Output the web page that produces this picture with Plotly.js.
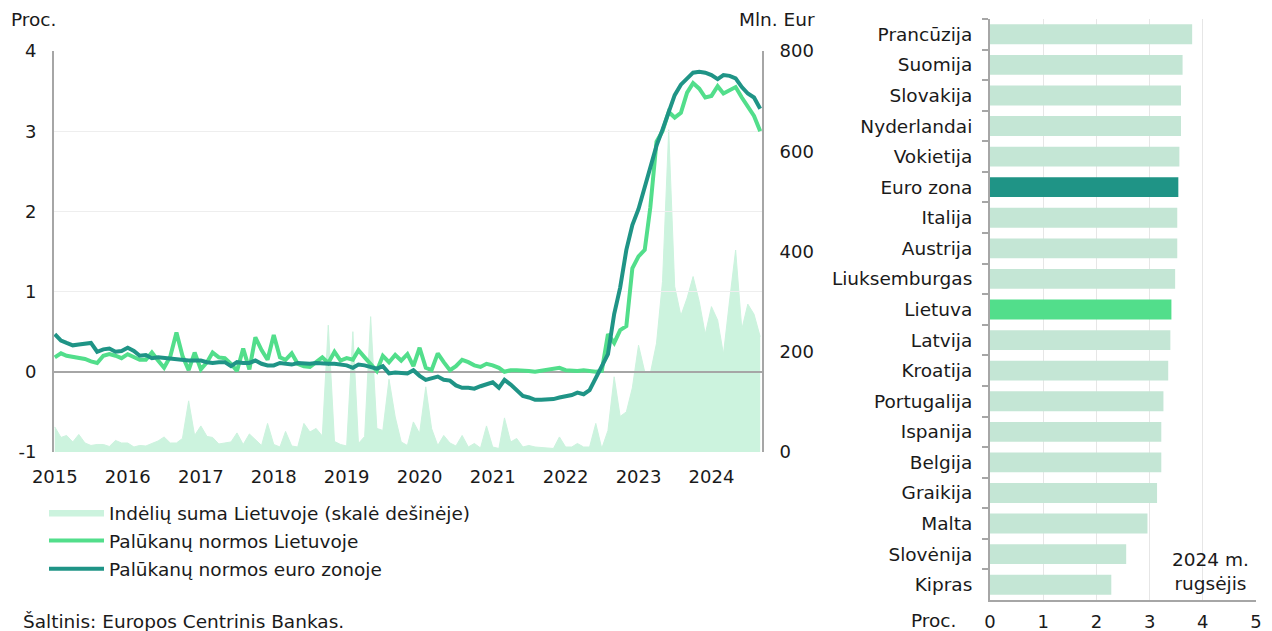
<!DOCTYPE html>
<html>
<head>
<meta charset="utf-8">
<script src="https://cdn.plot.ly/plotly-3.0.1.min.js"></script>
<style>html,body{margin:0;padding:0;background:#fff;}#chart{width:1272px;height:631px;}</style>
</head>
<body>
<div id="chart"></div>
<script>
// ---- Data (monthly, Jan 2015 – Sep 2024) ----
const startYear = 2015;
const depositsLT = [
  50, 29, 33, 20, 35, 18, 13, 15, 15, 11,
  23, 18, 18, 10, 13, 12, 17, 22, 30, 18,
  18, 27, 102, 33, 52, 31, 29, 16, 18, 20,
  38, 15, 36, 25, 13, 57, 15, 10, 41, 12,
  10, 57, 40, 47, 32, 253, 21, 15, 12, 240,
  17, 31, 270, 47, 43, 145, 70, 20, 13, 60,
  37, 130, 47, 13, 33, 18, 12, 33, 10, 17,
  8, 52, 10, 7, 68, 20, 27, 10, 13, 10,
  9, 8, 7, 30, 10, 10, 17, 10, 10, 57,
  7, 43, 150, 71, 80, 128, 213, 160, 157, 217,
  340, 643, 330, 272, 307, 350, 300, 235, 290, 263,
  195, 303, 403, 245, 295, 275, 230
];
const rateLT = [
  0.18, 0.23, 0.20, 0.19, 0.18, 0.16, 0.13, 0.11, 0.20, 0.22,
  0.20, 0.17, 0.22, 0.18, 0.15, 0.15, 0.24, 0.14, 0.05, 0.19,
  0.49, 0.20, 0.02, 0.24, 0.03, 0.12, 0.24, 0.18, 0.17, 0.10,
  0.01, 0.29, 0.03, 0.43, 0.27, 0.15, 0.46, 0.18, 0.15, 0.23,
  0.10, 0.07, 0.06, 0.12, 0.18, 0.11, 0.25, 0.14, 0.17, 0.15,
  0.27, 0.18, 0.10, 0.01, 0.20, 0.12, 0.21, 0.14, 0.22, 0.07,
  0.30, 0.05, 0.02, 0.23, 0.12, 0.02, 0.07, 0.15, 0.12, 0.08,
  0.06, 0.10, 0.08, 0.05, 0.00, 0.02, 0.02, 0.02, 0.01, 0.00,
  0.01, 0.02, 0.04, 0.05, 0.02, 0.01, 0.01, 0.02, 0.01, 0.00,
  0.01, 0.47, 0.36, 0.52, 0.57, 1.29, 1.44, 1.52, 2.05, 2.87,
  3.00, 3.24, 3.17, 3.23, 3.48, 3.60, 3.53, 3.42, 3.44, 3.56,
  3.47, 3.51, 3.55, 3.42, 3.31, 3.19, 3.00
];
const rateEA = [
  0.47, 0.39, 0.36, 0.33, 0.34, 0.35, 0.36, 0.25, 0.28, 0.29,
  0.25, 0.26, 0.30, 0.26, 0.20, 0.21, 0.17, 0.18, 0.17, 0.16,
  0.15, 0.15, 0.14, 0.14, 0.14, 0.12, 0.11, 0.12, 0.12, 0.07,
  0.12, 0.11, 0.11, 0.14, 0.10, 0.08, 0.08, 0.11, 0.10, 0.09,
  0.11, 0.10, 0.10, 0.11, 0.10, 0.10, 0.10, 0.09, 0.08, 0.05,
  0.09, 0.08, 0.06, 0.04, 0.07, -0.02, -0.01, -0.01, -0.02, 0.02,
  -0.05, -0.10, -0.08, -0.06, -0.10, -0.11, -0.17, -0.20, -0.20, -0.21,
  -0.18, -0.16, -0.13, -0.20, -0.10, -0.16, -0.23, -0.30, -0.32, -0.35,
  -0.35, -0.35, -0.34, -0.32, -0.31, -0.29, -0.26, -0.28, -0.23, -0.08,
  0.08, 0.22, 0.72, 1.05, 1.52, 1.83, 2.03, 2.30, 2.58, 2.82,
  3.02, 3.25, 3.45, 3.58, 3.65, 3.73, 3.74, 3.73, 3.70, 3.65,
  3.70, 3.69, 3.66, 3.55, 3.47, 3.42, 3.28
];

const countries = ['Prancūzija','Suomija','Slovakija','Nyderlandai','Vokietija','Euro zona','Italija','Austrija','Liuksemburgas','Lietuva','Latvija','Kroatija','Portugalija','Ispanija','Belgija','Graikija','Malta','Slovėnija','Kipras'];
const countryRates = [3.80, 3.62, 3.59, 3.59, 3.56, 3.54, 3.52, 3.52, 3.48, 3.41, 3.39, 3.35, 3.26, 3.22, 3.22, 3.14, 2.96, 2.56, 2.28];

const legendNames = ['Indėlių suma Lietuvoje (skalė dešinėje)', 'Palūkanų normos Lietuvoje', 'Palūkanų normos euro zonoje'];
const pctTicks = [-1, 0, 1, 2, 3, 4];
const pctTickText = ['-1', '0', '1', '2', '3', '4'];

// ---- month dates for x ----
const months = depositsLT.map((_, i) => {
  const y = startYear + Math.floor(i / 12);
  const m = (i % 12) + 1;
  return y + '-' + String(m).padStart(2, '0') + '-01';
});

// ---- styles ----
const C_AREA = '#ccf3de';
const C_LT = '#52de8b';
const C_EA = '#1f9486';
const C_BAR = '#c4e6d5';
const AXIS = '#a6a6a6';
const FS = 18.5;
const W = 1272, H = 631;
const px = v => v / W;
const py = v => 1 - v / H;

const leftX = [px(54), px(762)];
const leftY = [py(452), py(51)];
const rightX = [px(990), px(1256)];
const rightY = [py(600), py(19)];
const xRange = ['2014-12-28', '2024-09-10'];

const traces = [
  {
    type: 'scatter', mode: 'lines', x: months, y: depositsLT, name: legendNames[0],
    xaxis: 'x', yaxis: 'y', fill: 'tozeroy', fillcolor: C_AREA,
    line: {width: 1, color: C_AREA}, legendgroup: 'a', hoverinfo: 'skip'
  },
  {
    type: 'scatter', mode: 'lines', x: months, y: rateLT, name: legendNames[1],
    xaxis: 'x2', yaxis: 'y2', line: {width: 4, color: C_LT}, legendgroup: 'b'
  },
  {
    type: 'scatter', mode: 'lines', x: months, y: rateEA, name: legendNames[2],
    xaxis: 'x2', yaxis: 'y2', line: {width: 4, color: C_EA}, legendgroup: 'c'
  },
  {
    type: 'bar', orientation: 'h', x: countryRates, y: countries,
    xaxis: 'x3', yaxis: 'y3', showlegend: false, width: 0.65,
    marker: {color: countries.map(c => c === 'Euro zona' ? C_EA : (c === 'Lietuva' ? C_LT : C_BAR))}
  }
];

const layout = {
  width: W, height: H,
  margin: {l: 0, r: 0, t: 0, b: 0},
  paper_bgcolor: '#ffffff', plot_bgcolor: 'rgba(0,0,0,0)',
  font: {family: 'DejaVu Sans, Verdana, sans-serif', size: FS, color: '#1a1a1a'},
  showlegend: true,
  legend: {
    x: px(44), xanchor: 'left', y: py(494), yanchor: 'top',
    orientation: 'v', itemwidth: 55, tracegroupgap: 1, traceorder: 'grouped',
    bgcolor: 'rgba(0,0,0,0)', font: {size: FS, color: '#1a1a1a'}
  },
  xaxis: {
    domain: leftX, anchor: 'y', type: 'date', range: xRange,
    tick0: '2015-01-01', dtick: 'M12', tickformat: '%Y', tickfont: {size: 18},
    showgrid: false, showline: false, zeroline: false, ticks: '', ticklabelstandoff: 12
  },
  yaxis: {
    domain: leftY, anchor: 'x', side: 'right', range: [0, 800], dtick: 200, tickfont: {size: 18},
    showgrid: false, zeroline: false, showline: true, linecolor: AXIS, linewidth: 2,
    ticks: '', ticklabelstandoff: 12
  },
  xaxis2: {domain: leftX, anchor: 'y2', type: 'date', range: xRange, visible: false},
  yaxis2: {
    domain: leftY, anchor: 'x2', side: 'left', range: [-1, 4],
    tickmode: 'array', tickvals: pctTicks, ticktext: pctTickText, tickfont: {size: 18},
    showgrid: true, gridcolor: '#eeeeee', gridwidth: 1,
    zeroline: true, zerolinecolor: AXIS, zerolinewidth: 2,
    showline: true, linecolor: AXIS, linewidth: 2, ticks: '', ticklabelstandoff: 12
  },
  xaxis3: {
    domain: rightX, anchor: 'y3', range: [0, 5], dtick: 1, tickfont: {size: 18},
    showgrid: true, gridcolor: '#e6e6e6', gridwidth: 1, zeroline: false,
    showline: true, linecolor: AXIS, linewidth: 2, ticks: '', ticklabelstandoff: 4
  },
  yaxis3: {
    domain: rightY, anchor: 'x3', type: 'category', autorange: 'reversed',
    ticks: 'outside', tickson: 'boundaries', ticklen: 6, tickwidth: 2, tickcolor: AXIS,
    showline: true, linecolor: AXIS, linewidth: 2, showgrid: false, zeroline: false,
    ticklabelstandoff: 12
  },
  annotations: [
    {text: 'Proc.', xref: 'paper', yref: 'paper', x: px(9), y: py(20), xanchor: 'left', yanchor: 'middle', showarrow: false},
    {text: 'Mln. Eur', xref: 'paper', yref: 'paper', x: px(817), y: py(20), xanchor: 'right', yanchor: 'middle', showarrow: false},
    {text: 'Šaltinis: Europos Centrinis Bankas.', xref: 'paper', yref: 'paper', x: px(21), y: py(621), xanchor: 'left', yanchor: 'middle', showarrow: false},
    {text: 'Proc.', xref: 'paper', yref: 'paper', x: px(958), y: py(620), xanchor: 'right', yanchor: 'middle', showarrow: false},
    {text: '2024 m.<br>rugsėjis', xref: 'paper', yref: 'paper', x: px(1210), y: py(571), xanchor: 'center', yanchor: 'middle', showarrow: false, align: 'center'}
  ]
};

Plotly.newPlot('chart', traces, layout, {displayModeBar: false, staticPlot: true});
</script>
</body>
</html>
